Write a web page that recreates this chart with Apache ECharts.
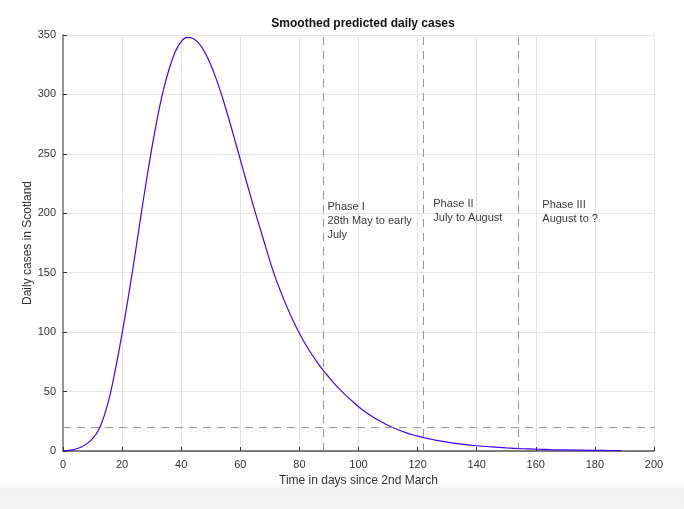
<!DOCTYPE html>
<html lang="en">
<head>
    <meta charset="utf-8">
    <title>Smoothed predicted daily cases</title>
    <script src="https://cdn.jsdelivr.net/npm/echarts@6/dist/echarts.min.js"></script>
    <style>
        html, body { margin: 0; padding: 0; background: #fff; }
        #main { width: 684px; height: 509px; }
    </style>
</head>
<body>
    <div id="main"></div>
    <script type="text/javascript">

    // days since 2nd March and smoothed daily cases
    var days  = [0, 2, 4, 6, 8, 10, 12, 14, 16, 18, 20, 22, 24, 26, 28, 30, 32, 34, 36, 38, 40, 42,
                 44, 46, 48, 50, 52, 54, 56, 58, 60, 62, 64, 66, 68, 70, 72, 74, 76, 78, 80, 82, 84, 86, 88,
                 90, 92, 94, 96, 98, 100, 102, 104, 106, 108, 110, 112, 114, 116, 118, 120, 122, 124, 126, 128, 130,
                 135, 140, 145, 150, 155, 160, 165, 170, 175, 180, 185, 189];
    var cases = [0, 0.5, 1.5, 3.2, 6, 10.5, 17.5, 30, 48, 72, 99, 128, 159, 192, 224, 254, 281, 304, 322, 336, 344.5, 348,
                 347, 343, 335.5, 325, 312, 297, 280.5, 263, 245.2, 227.4, 209.9, 193, 176.5, 160, 145, 132, 120, 109, 99, 90, 82, 74.8, 68,
                 62, 56.3, 51, 46.2, 41.7, 37.3, 33.5, 30.1, 27, 24.2, 21.6, 19.3, 17.3, 15.5, 13.9, 12.5, 11.3, 10.2, 9.2, 8.3, 7.5,
                 5.8, 4.4, 3.4, 2.6, 2.0, 1.5, 1.15, 0.9, 0.7, 0.5, 0.4, 0.3];

    // phase boundaries (days) and the threshold line
    var phaseDays = [88, 122, 154];
    var threshold = 20;

    // phase notes: anchor in data coords
    var noteX    = [89.5, 125.3, 162.2];
    var noteY    = [211, 213.5, 212.5];
    var noteText = ['Phase I\n28th May to early\nJuly', 'Phase II\nJuly to August', 'Phase III\nAugust to ?'];

    var xTicks = [0, 200, 20];   // min, max, interval
    var yTicks = [0, 350, 50];

    var curve = days.map(function (d, i) { return [d, cases[i]]; });
    var notes = noteX.map(function (x, i) { return { value: [x, noteY[i]], name: noteText[i] }; });

    var marks = phaseDays.map(function (d) { return { xAxis: d }; });
    marks.push({ yAxis: threshold });

    var chart = echarts.init(document.getElementById('main'));
    chart.setOption({
        animation: false,
        textStyle: { fontFamily: 'Liberation Sans, Arial, sans-serif' },
        graphic: [{
            type: 'rect',
            silent: true,
            z: -10,
            shape: { x: 0, y: 480, width: 684, height: 29 },
            style: {
                fill: new echarts.graphic.LinearGradient(0, 0, 0, 1, [
                    { offset: 0, color: '#ffffff' },
                    { offset: 0.35, color: '#f1f1f1' },
                    { offset: 1, color: '#f3f3f3' }
                ])
            }
        }],
        title: {
            text: 'Smoothed predicted daily cases',
            left: 358, top: 13, textAlign: 'center',
            textStyle: { fontSize: 12, fontWeight: 'bold', color: '#111' }
        },
        grid: { left: 63, right: 30, top: 35, bottom: 58 },
        xAxis: {
            type: 'value',
            min: xTicks[0], max: xTicks[1], interval: xTicks[2],
            name: 'Time in days since 2nd March',
            nameLocation: 'middle', nameGap: 24,
            nameMoveOverlap: false,
            nameTextStyle: { fontSize: 12, color: '#333' },
            axisLine: { lineStyle: { color: '#555', width: 1.5 } },
            axisTick: { inside: true, length: 4, lineStyle: { color: '#333' } },
            axisLabel: { fontSize: 11, color: '#333', margin: 8 },
            splitLine: { show: true, lineStyle: { color: '#e4e4e4' } }
        },
        yAxis: {
            type: 'value',
            min: yTicks[0], max: yTicks[1], interval: yTicks[2],
            name: 'Daily cases in Scotland',
            nameLocation: 'middle', nameGap: 29,
            nameMoveOverlap: false,
            nameTextStyle: { fontSize: 12, color: '#333' },
            axisLine: { show: true, lineStyle: { color: '#777', width: 1.5 } },
            axisTick: { show: true, inside: true, length: 4, lineStyle: { color: '#333' } },
            axisLabel: { fontSize: 11, color: '#333', margin: 7 },
            splitLine: { show: true, lineStyle: { color: '#e4e4e4' } }
        },
        series: [{
            name: 'cases',
            type: 'line',
            smooth: 0.3,
            showSymbol: false,
            data: curve,
            lineStyle: { color: '#4400ff', width: 1.2 },
            itemStyle: { color: '#4400ff' },
            markLine: {
                silent: true,
                symbol: 'none',
                label: { show: false },
                lineStyle: { color: '#999', type: [8, 6], width: 1 },
                data: marks
            }
        }, {
            name: 'notes',
            type: 'scatter',
            symbolSize: 0,
            data: notes,
            label: {
                show: true,
                position: 'insideTopLeft',
                distance: 0,
                formatter: function (p) { return p.name; },
                fontSize: 11,
                lineHeight: 14,
                color: '#000'
            }
        }]
    });
    </script>
</body>
</html>
